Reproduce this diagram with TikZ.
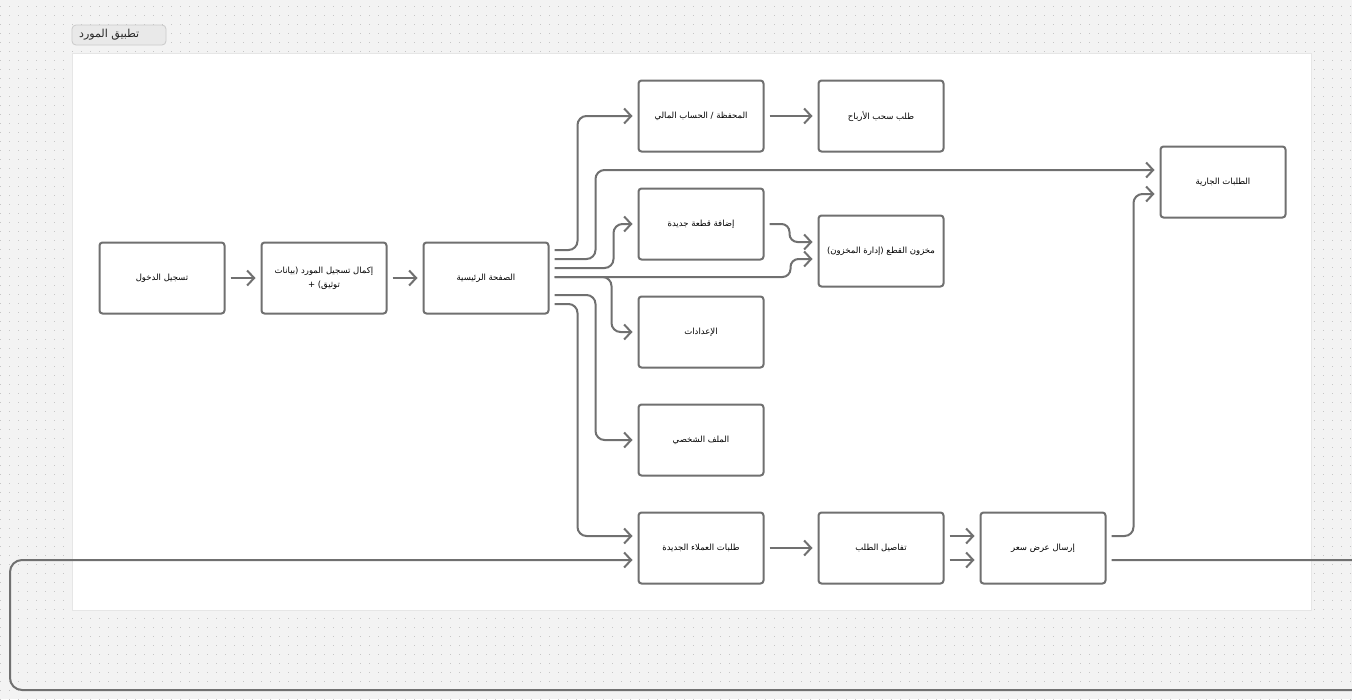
\documentclass[tikz,border=0pt]{standalone}
\usepackage{fontspec}
\newfontfamily\arabicfont[Script=Arabic]{DejaVu Sans}
\TeXXeTstate=1
\usetikzlibrary{arrows.meta,calc}
\definecolor{bgc}{HTML}{F3F3F3}
\definecolor{dotc}{HTML}{C6C6C6}
\definecolor{panelb}{HTML}{E6E6E6}
\definecolor{linec}{HTML}{707070}
\definecolor{tagfill}{HTML}{E9E9E9}
\definecolor{tagline}{HTML}{CACACA}
\tikzset{
  box/.style={draw=linec, line width=2pt, rounded corners=3pt, fill=white,
    minimum width=125pt, minimum height=71pt, inner sep=2pt, align=center,
    font=\arabicfont\fontsize{8.5}{14}\selectfont},
  arr/.style={draw=linec, line width=2pt, rounded corners=9pt,
    -{Straight Barb[length=7pt,width=15pt,line width=2pt]}},
  loopline/.style={draw=linec, line width=2pt, rounded corners=12pt,
    -{Straight Barb[length=7pt,width=15pt,line width=2pt]}},
}
\begin{document}
\begin{tikzpicture}[x=1pt,y=-1pt]
\useasboundingbox (0,0) rectangle (1352,699);
\clip (0,0) rectangle (1352,699);
\fill[bgc] (0,0) rectangle (1352,699);
\foreach \r in {0,...,77}{
  \draw[dotc, line width=1pt, dash pattern=on 1pt off 8pt] (0,6+9*\r) -- (1352,6+9*\r);
}
% panel
\draw[fill=white, draw=panelb, line width=0.8pt] (72,53) rectangle (1311,610);
% title tag
\draw[fill=tagfill, draw=tagline, line width=0.8pt, rounded corners=4pt] (72,25) rectangle (166,45);
\node[anchor=west, inner sep=0, font=\arabicfont\fontsize{11}{13}\selectfont, text=black!85] (tag) at (79,35) {\beginR تطبيق المورد\endR};
% nodes
\node[box] (login) at (162,278) {\beginR تسجيل الدخول\endR};
\node[box] (reg) at (324,278) {\beginR إكمال تسجيل المورد (بيانات\endR\\+ \beginR توثيق)\endR};
\node[box] (home) at (486,278) {\beginR الصفحة الرئيسية\endR};
\node[box] (wallet) at (701,116) {\beginR المحفظة / الحساب المالي\endR};
\node[box] (withdraw) at (881,116) {\beginR طلب سحب الأرباح\endR};
\node[box] (addpart) at (701,224) {\beginR إضافة قطعة جديدة\endR};
\node[box] (inventory) at (881,251) {\beginR مخزون القطع (إدارة المخزون)\endR};
\node[box] (settings) at (701,332) {\beginR الإعدادات\endR};
\node[box] (profile) at (701,440) {\beginR الملف الشخصي\endR};
\node[box] (newreq) at (701,548) {\beginR طلبات العملاء الجديدة\endR};
\node[box] (details) at (881,548) {\beginR تفاصيل الطلب\endR};
\node[box] (offer) at (1043,548) {\beginR إرسال عرض سعر\endR};
\node[box] (current) at (1223,182) {\beginR الطلبات الجارية\endR};
% connectors
\draw[arr] ($(login.east)+(5,0)$) -- ($(reg.west)+(-5,0)$);
\draw[arr] ($(reg.east)+(5,0)$) -- ($(home.west)+(-5,0)$);
\draw[arr] ($(home.east)+(5,-28)$) -- ++(23,0) |- ($(wallet.west)+(-5,0)$);
\draw[arr] ($(home.east)+(5,-19)$) -- ++(41,0) |- ($(current.west)+(-5,-12)$);
\draw[arr] ($(home.east)+(5,-10)$) -- ++(59,0) |- ($(addpart.west)+(-5,0)$);
\draw[arr, rounded corners=8pt] ($(home.east)+(5,-1)$) -- ++(236,0) |- ($(inventory.west)+(-5,8)$);
\draw[arr] ($(home.east)+(5,-1)$) -- ++(57,0) |- ($(settings.west)+(-5,0)$);
\draw[arr] ($(home.east)+(5,17)$) -- ++(41,0) |- ($(profile.west)+(-5,0)$);
\draw[arr] ($(home.east)+(5,26)$) -- ++(23,0) |- ($(newreq.west)+(-5,-12)$);
\draw[arr, rounded corners=8pt] ($(addpart.east)+(5,0)$) -- ++(20,0) |- ($(inventory.west)+(-5,-9)$);
\draw[arr] ($(wallet.east)+(5,0)$) -- ($(withdraw.west)+(-5,0)$);
\draw[arr] ($(newreq.east)+(5,0)$) -- ($(details.west)+(-5,0)$);
\draw[arr] ($(details.east)+(5,-12)$) -- ($(offer.west)+(-5,-12)$);
\draw[arr] ($(details.east)+(5,12)$) -- ($(offer.west)+(-5,12)$);
\draw[arr] ($(offer.east)+(5,-12)$) -- ++(22,0) |- ($(current.west)+(-5,12)$);
\coordinate (loopR) at (1370,690);
\coordinate (loopL) at (10,690);
\draw[loopline] ($(offer.east)+(5,12)$) -| (loopR) -- (loopL) |- ($(newreq.west)+(-5,12)$);
\end{tikzpicture}
\end{document}
